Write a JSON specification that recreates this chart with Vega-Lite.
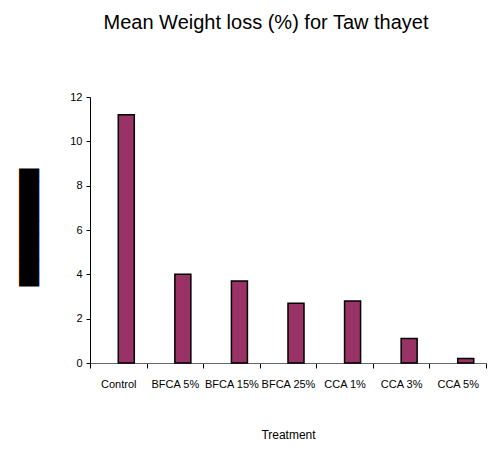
{
  "$schema": "https://vega.github.io/schema/vega-lite/v6.json",
  "width": 396,
  "height": 266,
  "autosize": {"type": "none"},
  "padding": {"left": 90, "top": 97, "right": 8, "bottom": 96},
  "background": "white",
  "config": {
    "view": {"stroke": null},
    "font": "Liberation Sans"
  },
  "title": {
    "text": "Mean Weight loss (%) for Taw  thayet",
    "fontSize": 20,
    "fontWeight": "normal",
    "color": "#000000",
    "font": "Liberation Sans",
    "baseline": "alphabetic",
    "anchor": "middle",
    "offset": 42,
    "dx": -22
  },
  "data": {
    "values": [
      {"Treatment": "Control", "WeightLoss": 11.2},
      {"Treatment": "BFCA 5%", "WeightLoss": 4.0},
      {"Treatment": "BFCA 15%", "WeightLoss": 3.7},
      {"Treatment": "BFCA 25%", "WeightLoss": 2.7},
      {"Treatment": "CCA 1%", "WeightLoss": 2.8},
      {"Treatment": "CCA 3%", "WeightLoss": 1.1},
      {"Treatment": "CCA 5%", "WeightLoss": 0.2}
    ]
  },
  "mark": {"type": "bar", "color": "#993366", "stroke": "#000000", "strokeWidth": 1.5, "width": {"band": 0.283}, "xOffset": 8},
  "encoding": {
    "x": {
      "field": "Treatment",
      "type": "nominal",
      "sort": null,
      "scale": {"paddingInner": 0, "paddingOuter": 0},
      "axis": {
        "title": "Treatment",
        "titleFontSize": 12,
        "titleFontWeight": "normal",
        "titleColor": "#000000",
        "titlePadding": 40,
        "labelAngle": 0,
        "labelFontSize": 11,
        "labelColor": "#000000",
        "labelPadding": 10,
        "labelBaseline": "top",
        "tickSize": 5,
        "tickColor": "#000000",
        "tickBand": "extent",
        "domainColor": "#666666",
        "grid": false
      }
    },
    "y": {
      "field": "WeightLoss",
      "type": "quantitative",
      "scale": {"domain": [0, 12], "nice": false},
      "axis": {
        "title": "█████████",
        "titleFont": "DejaVu Sans",
        "titleFontSize": 17,
        "titleFontWeight": "normal",
        "titleColor": "#000000",
        "titleX": -61,
        "titleY": 130,
        "titleBaseline": "middle",
        "values": [0, 2, 4, 6, 8, 10, 12],
        "labelFontSize": 11,
        "labelColor": "#000000",
        "labelPadding": 4,
        "tickSize": 4,
        "tickColor": "#000000",
        "domainColor": "#000000",
        "grid": false
      }
    }
  }
}
